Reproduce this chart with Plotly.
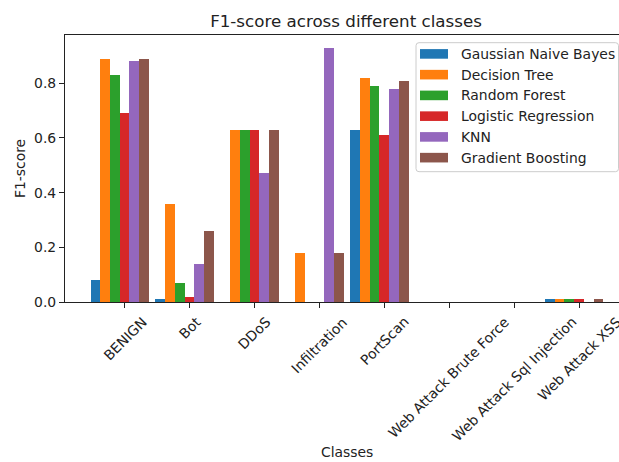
import plotly.graph_objects as go

# F1-score per traffic class for each classifier
classes = ["BENIGN", "Bot", "DDoS", "Infiltration", "PortScan",
           "Web Attack Brute Force", "Web Attack Sql Injection", "Web Attack XSS"]
models = ["Gaussian Naive Bayes", "Decision Tree", "Random Forest",
          "Logistic Regression", "KNN", "Gradient Boosting"]

gaussian_nb = [0.08, 0.01, 0.00, 0.00, 0.63, 0.00, 0.00, 0.01]
decision_tree = [0.89, 0.36, 0.63, 0.18, 0.82, 0.00, 0.00, 0.01]
random_forest = [0.83, 0.07, 0.63, 0.00, 0.79, 0.00, 0.00, 0.01]
logistic_reg = [0.69, 0.02, 0.63, 0.00, 0.61, 0.00, 0.00, 0.01]
knn = [0.88, 0.14, 0.47, 0.93, 0.78, 0.00, 0.00, 0.00]
gradient_boost = [0.89, 0.26, 0.63, 0.18, 0.81, 0.00, 0.00, 0.01]

series = [gaussian_nb, decision_tree, random_forest, logistic_reg, knn, gradient_boost]
colors = ["#1f77b4", "#ff7f0e", "#2ca02c", "#d62728", "#9467bd", "#8c564b"]

W, H = 619, 462
ML, MR, MT, MB = 65, 0, 35, 160
PW, PH = W - ML - MR, H - MT - MB
FONT = "DejaVu Sans"
TXT = "#222222"
FS = 13.9
BAR_W = 0.15


def px(p):
    return (p - ML) / PW


def py(p):
    return (H - MB - p) / PH


fig = go.Figure()
for i, (name, vals, col) in enumerate(zip(models, series, colors)):
    fig.add_trace(go.Bar(
        x=classes, y=vals, name=name,
        width=BAR_W, offset=(i - 3) * BAR_W - BAR_W / 2,
        marker=dict(color=col, line=dict(width=0)),
        showlegend=False,
    ))

annotations = []
# rotated class labels, centred under each tick
for c in classes:
    annotations.append(dict(
        x=c, y=0, xref="x", yref="paper", text=c, showarrow=False,
        textangle=-45, xanchor="center", yanchor="top", yshift=-9,
        font=dict(family=FONT, size=FS, color=TXT),
    ))

# x-axis title below the rotated labels
annotations.append(dict(
    x=px(346.7), y=py(451.7), xref="paper", yref="paper", text="Classes",
    showarrow=False, xanchor="center", yanchor="middle",
    font=dict(family=FONT, size=FS, color=TXT),
))

# legend frame
lx0, lx1, ly0, ly1, r = 416, 618.5, 42.7, 171.7, 3
path = (f"M{px(lx0 + r)},{py(ly0)} L{px(lx1 - r)},{py(ly0)} "
        f"Q{px(lx1)},{py(ly0)} {px(lx1)},{py(ly0 + r)} "
        f"L{px(lx1)},{py(ly1 - r)} Q{px(lx1)},{py(ly1)} {px(lx1 - r)},{py(ly1)} "
        f"L{px(lx0 + r)},{py(ly1)} Q{px(lx0)},{py(ly1)} {px(lx0)},{py(ly1 - r)} "
        f"L{px(lx0)},{py(ly0 + r)} Q{px(lx0)},{py(ly0)} {px(lx0 + r)},{py(ly0)} Z")
shapes = [dict(type="path", xref="paper", yref="paper", path=path,
               fillcolor="rgba(255,255,255,0.8)", line=dict(color="#cccccc", width=1))]

row0, row_step = 53.9, 20.75
for i, (name, col) in enumerate(zip(models, colors)):
    yc = row0 + i * row_step
    shapes.append(dict(type="rect", xref="paper", yref="paper",
                       x0=px(420), x1=px(448), y0=py(yc + 4.8), y1=py(yc - 4.8),
                       fillcolor=col, line=dict(width=0)))
    annotations.append(dict(
        x=px(459), y=py(yc), xref="paper", yref="paper", text=name,
        showarrow=False, xanchor="left", yanchor="middle",
        font=dict(family=FONT, size=FS, color=TXT),
    ))

fig.update_layout(
    width=W, height=H,
    margin=dict(l=ML, r=MR, t=MT, b=MB, autoexpand=False),
    plot_bgcolor="white", paper_bgcolor="white",
    barmode="overlay", bargap=0,
    font=dict(family=FONT, size=FS, color=TXT),
    title=dict(text="F1-score across different classes", x=px(346), xref="paper",
               xanchor="center", y=1 - 20.7 / H, yanchor="middle", yref="container",
               font=dict(family=FONT, size=16.7, color=TXT)),
    xaxis=dict(type="category", categoryorder="array", categoryarray=classes,
               range=[-0.918, 7.615], showticklabels=False,
               ticks="outside", ticklen=5, tickwidth=1.1, tickcolor="#222",
               showline=True, linecolor="#222", linewidth=1.1, mirror=True,
               showgrid=False, zeroline=False),
    yaxis=dict(range=[0, 0.9765], tickvals=[0, 0.2, 0.4, 0.6, 0.8], tickformat=".1f",
               ticks="outside", ticklen=5, tickwidth=1.1, tickcolor="#222",
               showline=True, linecolor="#222", linewidth=1.1, mirror=False,
               showgrid=False, zeroline=False,
               tickfont=dict(family=FONT, size=FS, color=TXT),
               title=dict(text="F1-score", standoff=5,
                          font=dict(family=FONT, size=FS, color=TXT))),
    shapes=shapes, annotations=annotations,
)

fig.write_html("out.html")
